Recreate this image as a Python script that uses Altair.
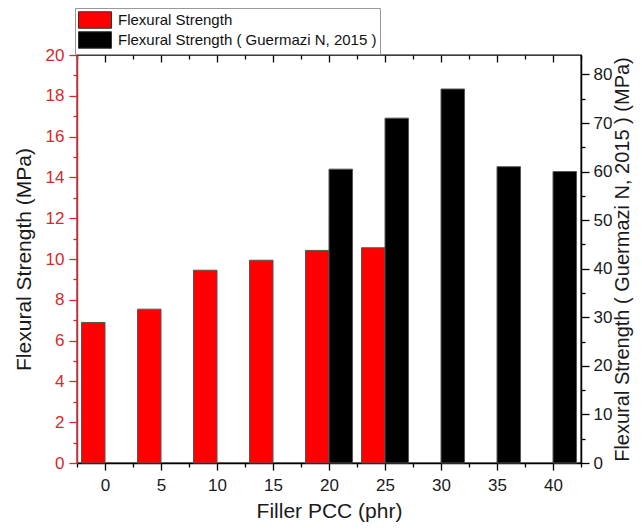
import altair as alt
import pandas as pd

# ---- data ----
pcc_own = [0, 5, 10, 15, 20, 25]
strength_own = [6.89, 7.54, 9.45, 9.94, 10.42, 10.55]
pcc_ref = [20, 25, 30, 35, 40]
strength_ref = [60.5, 71.0, 77.0, 61.0, 60.0]
series_names = ["Flexural Strength", "Flexural Strength ( Guermazi N, 2015 )"]
series_colors = ["#ff0000", "#000000"]

x_major = [0, 5, 10, 15, 20, 25, 30, 35, 40]
x_minor = [-2.5, 2.5, 7.5, 12.5, 17.5, 22.5, 27.5, 32.5, 37.5, 42.5]
left_major = [0, 2, 4, 6, 8, 10, 12, 14, 16, 18, 20]
left_minor = [1, 3, 5, 7, 9, 11, 13, 15, 17, 19]
right_major = [0, 10, 20, 30, 40, 50, 60, 70, 80]
right_minor = [5, 15, 25, 35, 45, 55, 65, 75]

BAR_W = 2.1
RED_AX = "#d42a2a"
FONT = "Liberation Sans"

df_own = pd.DataFrame({"pcc": pcc_own, "strength": strength_own, "series": series_names[0]})
df_ref = pd.DataFrame({"pcc": pcc_ref, "strength": strength_ref, "series": series_names[1]})

xscale = alt.Scale(domain=[-2.5, 42.5], nice=False, zero=False)
yscale_l = alt.Scale(domain=[0, 20], nice=False, zero=False)
yscale_r = alt.Scale(domain=[0, 84], nice=False, zero=False)
cscale = alt.Scale(domain=series_names, range=series_colors)

legend = alt.Legend(
    title=None, orient="none", legendX=-2, legendY=-47,
    direction="vertical",
    symbolType="M-2,-1H2V1H-2Z", symbolSize=272, symbolOffset=8,
    symbolStrokeColor="#333333", symbolStrokeWidth=1, symbolOpacity=1,
    labelFont=FONT, labelFontSize=15, labelColor="#111111", labelLimit=400,
    labelOffset=14, rowPadding=-4, padding=3,
    strokeColor="#999999", fillColor="white",
)

bar_style = dict(stroke="#555555", strokeWidth=1)

own = alt.Chart(df_own).transform_calculate(
    x_start=f"datum.pcc - {BAR_W}"
).mark_bar(**bar_style).encode(
    x=alt.X("x_start:Q", scale=xscale, axis=alt.Axis(
        orient="bottom", values=x_major, title="Filler PCC (phr)",
        tickSize=7, tickWidth=1.3, tickColor="black", domainColor="black", domainWidth=1.5,
        labelFontSize=17, labelPadding=7, labelColor="#1a1a1a", labelFlush=False,
        titleFontSize=21, titlePadding=7, titleColor="#1a1a1a", titleFontWeight="normal",
        grid=False)),
    x2="pcc:Q",
    y=alt.Y("strength:Q", scale=yscale_l, axis=alt.Axis(
        orient="left", values=left_major, title="Flexural Strength (MPa)",
        tickSize=8, tickWidth=1.3, tickColor=RED_AX, domainColor=RED_AX, domainWidth=1.5,
        labelFontSize=17, labelPadding=5, labelColor=RED_AX,
        titleFontSize=21, titlePadding=11, titleColor="#1a1a1a", titleFontWeight="normal",
        grid=False)),
    y2=alt.datum(0),
    color=alt.Color("series:N", scale=cscale, legend=legend),
)

ref = alt.Chart(df_ref).transform_calculate(
    x_end=f"datum.pcc + {BAR_W}"
).mark_bar(**bar_style).encode(
    x=alt.X("pcc:Q", scale=xscale, axis=alt.Axis(
        orient="top", values=x_major, title=None, labels=False, domain=False,
        tickSize=7, tickWidth=1.3, tickColor="black", offset=-7, grid=False)),
    x2="x_end:Q",
    y=alt.Y("strength:Q", scale=yscale_r, axis=alt.Axis(
        orient="right", values=right_major,
        title="Flexural Strength ( Guermazi N, 2015 ) (MPa)",
        tickSize=8, tickWidth=1.3, tickColor="black", domainColor="black", domainWidth=1.5,
        labelFontSize=17, labelPadding=4, labelColor="#1a1a1a",
        titleFontSize=20, titlePadding=1, titleColor="#1a1a1a", titleFontWeight="normal",
        titleAngle=270, titleBaseline="top",
        grid=False)),
    y2=alt.datum(0),
    color=alt.Color("series:N", scale=cscale, legend=legend),
)

own_minor = alt.Chart(df_own).transform_calculate(
    x_start=f"datum.pcc - {BAR_W}"
).mark_bar(opacity=0).encode(
    x=alt.X("x_start:Q", scale=xscale, axis=alt.Axis(
        orient="bottom", values=x_minor, title=None, labels=False, domain=False,
        tickSize=4, tickWidth=1.3, tickColor="black", grid=False)),
    x2="pcc:Q",
    y=alt.Y("strength:Q", scale=yscale_l, axis=alt.Axis(
        orient="left", values=left_minor, title=None, labels=False, domain=False,
        tickSize=4, tickWidth=1.3, tickColor=RED_AX, grid=False)),
    y2=alt.datum(0),
)

ref_minor = alt.Chart(df_ref).transform_calculate(
    x_end=f"datum.pcc + {BAR_W}"
).mark_bar(opacity=0).encode(
    x=alt.X("pcc:Q", scale=xscale, axis=alt.Axis(
        orient="top", values=x_minor, title=None, labels=False, domain=False,
        tickSize=4, tickWidth=1.3, tickColor="black", offset=-4, grid=False)),
    x2="x_end:Q",
    y=alt.Y("strength:Q", scale=yscale_r, axis=alt.Axis(
        orient="right", values=right_minor, title=None, labels=False, domain=False,
        tickSize=4, tickWidth=1.3, tickColor="black", grid=False)),
    y2=alt.datum(0),
)

chart = alt.layer(own, ref, own_minor, ref_minor).resolve_scale(
    y="independent"
).resolve_axis(
    x="independent", y="independent"
).properties(
    width=504, height=408,
    autosize="none",
    padding={"left": 69, "top": 47, "right": 53, "bottom": 59},
).configure(
    font=FONT,
).configure_view(
    stroke="black", strokeWidth=1.3,
)

chart.save("out.html", embed_options={"renderer": "svg", "actions": False})
